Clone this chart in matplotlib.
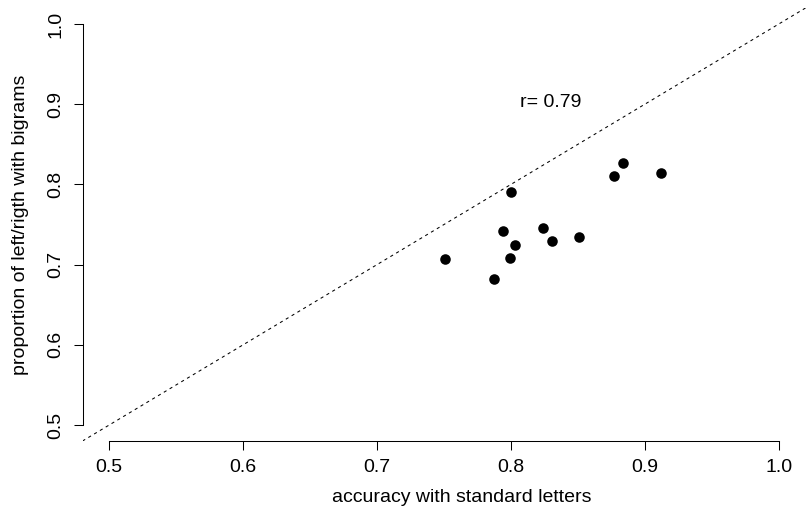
import matplotlib
matplotlib.use("Agg")
import matplotlib.pyplot as plt

plt.rcParams['font.family'] = ['Liberation Sans', 'DejaVu Sans']

accuracy_standard = [0.751, 0.787, 0.794, 0.799, 0.800, 0.803, 0.824, 0.831, 0.851, 0.877, 0.884, 0.912]
proportion_bigrams = [0.707, 0.682, 0.742, 0.708, 0.790, 0.724, 0.746, 0.730, 0.734, 0.810, 0.827, 0.814]
tick_values = [0.5, 0.6, 0.7, 0.8, 0.9, 1.0]
tick_labels = ["0.5", "0.6", "0.7", "0.8", "0.9", "1.0"]
r_label = "r= 0.79"
xlabel = "accuracy with standard letters"
ylabel = "proportion of left/rigth with bigrams"

W, H = 806, 514
fig = plt.figure(figsize=(W / 100, H / 100), dpi=100)
left, right, top, bottom = 82.5, 805.5, 8.0, 441.0
ax = fig.add_axes([left / W, 1 - bottom / H, (right - left) / W, (bottom - top) / H])
ax.set_xlim(0.48, 1.02)
ax.set_ylim(0.48, 1.02)

# identity line
ax.plot([0.48, 1.02], [0.48, 1.02], color='black', lw=0.75, linestyle=(0, (3, 3.5)))

ax.plot(accuracy_standard, proportion_bigrams, 'o', color='black', markersize=7.6, mew=0)

ax.text(0.83, 0.902, r_label, ha='center', va='center', fontsize=14)

for s in ['top', 'right']:
    ax.spines[s].set_visible(False)
ax.spines['left'].set_bounds(0.5, 1.0)
ax.spines['bottom'].set_bounds(0.5, 1.0)
for s in ['left', 'bottom']:
    ax.spines[s].set_linewidth(0.75)

ax.set_xticks(tick_values)
ax.set_xticklabels(tick_labels, fontsize=14)
ax.set_yticks(tick_values)
ax.set_yticklabels(tick_labels, fontsize=14, rotation=90, va='center')
ax.tick_params(axis='x', length=6.5, width=0.75, pad=6.5)
ax.tick_params(axis='y', length=6.5, width=0.75, pad=6.8)

ax.set_xlabel(xlabel, fontsize=14)
ax.set_ylabel(ylabel, fontsize=14)
ax.xaxis.set_label_coords(462 / W, 1 - 497 / H, transform=fig.transFigure)
ax.xaxis.label.set_va('center')
ax.yaxis.set_label_coords(21 / W, 1 - 224.5 / H, transform=fig.transFigure)
ax.yaxis.label.set_va('center')

fig.savefig("out.png", dpi=100)
